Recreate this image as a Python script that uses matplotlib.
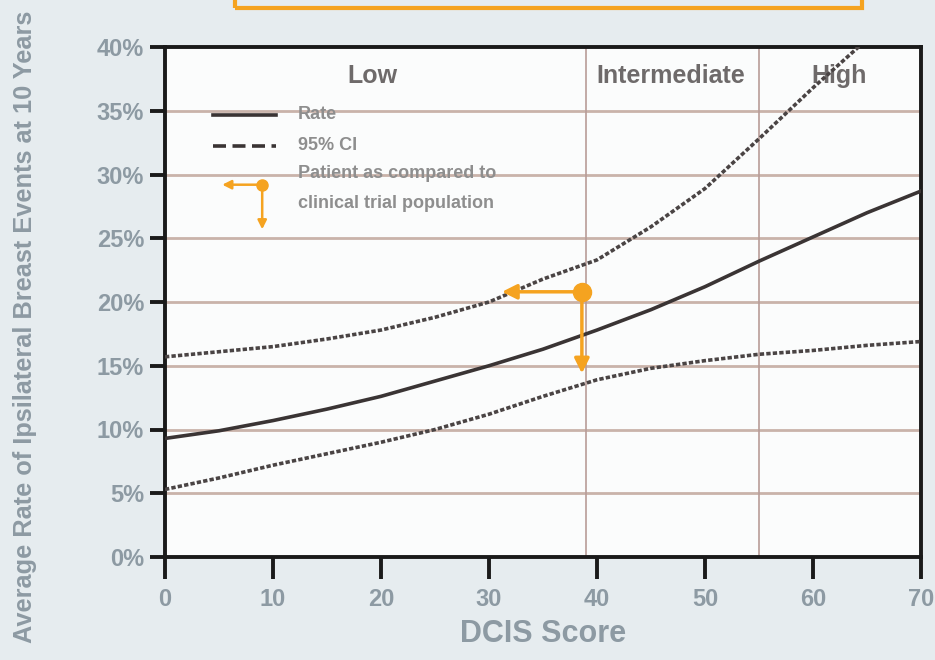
import numpy as np
import matplotlib
matplotlib.use("Agg")
import matplotlib.pyplot as plt
from matplotlib.patches import Rectangle

# DCIS score vs 10-yr ipsilateral breast event rate
score = [0, 5, 10, 15, 20, 25, 30, 35, 40, 45, 50, 55, 60, 65, 70]
rate = [9.3, 9.9, 10.7, 11.6, 12.6, 13.8, 15.0, 16.3, 17.8, 19.4, 21.2, 23.2, 25.1, 27.0, 28.7]
ci_lower = [5.3, 6.2, 7.2, 8.1, 9.0, 10.0, 11.2, 12.6, 13.9, 14.8, 15.4, 15.9, 16.2, 16.6, 16.9]
score_up = [0, 5, 10, 15, 20, 25, 30, 35, 40, 45, 50, 55, 60, 65]
ci_upper = [15.7, 16.1, 16.5, 17.1, 17.8, 18.8, 20.0, 21.8, 23.3, 25.9, 28.9, 32.8, 36.8, 40.6]

groups = ["Low", "Intermediate", "High"]
group_x = [19.2, 46.8, 62.4]
cutoffs = [39, 55]

patient_score = 38.6
patient_rate = 20.8
trial_score = 31.2
trial_rate = 14.4

bg = "#e6ecef"
grid_col = "#c9b3aa"
txt_gray = "#8d9aa3"
orange = "#f5a320"
font = ["Liberation Sans", "DejaVu Sans"]

fig = plt.figure(figsize=(9.35, 6.6), dpi=100, facecolor=bg)
ax = fig.add_axes([165 / 935, 1 - 557 / 660, (921 - 165) / 935, (557 - 47) / 660])
ax.set_facecolor("#fbfcfc")

ax.plot(score, rate, color="#3a3434", lw=2.6, zorder=3)
ax.plot(score_up, ci_upper, color="#4a4444", lw=2.6, ls=(0, (1.2, 0.6)), zorder=3)
ax.plot(score, ci_lower, color="#4a4444", lw=2.6, ls=(0, (1.2, 0.6)), zorder=3)

ax.set_xlim(0, 70)
ax.set_ylim(0, 40)
ax.set_yticks(range(0, 41, 5))
ax.set_yticklabels([f"{v}%" for v in range(0, 41, 5)])
ax.set_xticks(range(0, 71, 10))

for v in range(5, 40, 5):
    ax.axhline(v, color=grid_col, lw=2, zorder=1)
for c in cutoffs:
    ax.axvline(c, color="#b89c98", lw=1.2, zorder=1)

for g, gx in zip(groups, group_x):
    ax.text(gx, 37.7, g, ha="center", va="center", fontsize=18,
            fontweight="bold", color="#6e6a6a", family=font, zorder=2)

# patient marker
ax.plot(patient_score, patient_rate, "o", color=orange, ms=13, zorder=5)
ax.annotate("", xy=(trial_score, patient_rate), xytext=(patient_score, patient_rate),
            arrowprops=dict(arrowstyle="-|>", color=orange, lw=2.5,
                            mutation_scale=22, shrinkA=0, shrinkB=0), zorder=5)
ax.annotate("", xy=(patient_score, trial_rate), xytext=(patient_score, patient_rate),
            arrowprops=dict(arrowstyle="-|>", color=orange, lw=2.5,
                            mutation_scale=22, shrinkA=0, shrinkB=0), zorder=5)

# hand-made legend
ax.plot([4.4, 10.3], [34.7, 34.7], color="#3a3434", lw=2.6)
ax.plot([4.4, 10.3], [32.2, 32.2], color="#3a3434", lw=2.6, ls=(0, (3.6, 1.8)))
ax.plot(9.0, 29.2, "o", color=orange, ms=8, zorder=5)
ax.annotate("", xy=(5.3, 29.2), xytext=(9.0, 29.2),
            arrowprops=dict(arrowstyle="-|>", color=orange, lw=1.8,
                            mutation_scale=13, shrinkA=0, shrinkB=0))
ax.annotate("", xy=(9.0, 25.7), xytext=(9.0, 29.2),
            arrowprops=dict(arrowstyle="-|>", color=orange, lw=1.8,
                            mutation_scale=13, shrinkA=0, shrinkB=0))
leg_kw = dict(ha="left", va="center", fontsize=13, color="#8e8e8e",
              fontweight="bold", family=font)
ax.text(12.3, 34.7, "Rate", **leg_kw)
ax.text(12.3, 32.3, "95% CI", **leg_kw)
ax.text(12.3, 30.1, "Patient as compared to", **leg_kw)
ax.text(12.3, 27.7, "clinical trial population", **leg_kw)

for s in ax.spines.values():
    s.set_color("#1a1a1a")
    s.set_linewidth(2.8)
ax.tick_params(axis="y", length=11, width=2.8, color="#1a1a1a", pad=4,
               labelsize=17, labelcolor=txt_gray)
ax.tick_params(axis="x", direction="out", length=16, width=2.8,
               color="#1a1a1a", pad=6, labelsize=17, labelcolor=txt_gray)
for lab in ax.get_xticklabels() + ax.get_yticklabels():
    lab.set_family(font)
    lab.set_fontweight("bold")

ax.set_xlabel("DCIS Score", fontsize=22, color=txt_gray, fontweight="bold",
              family=font, labelpad=6)
fig.text(25 / 935, 1 - 643 / 660,
         "Average Rate of Ipsilateral Breast Events at 10 Years",
         rotation=90, rotation_mode="anchor", ha="left", va="center",
         fontsize=18.3, color=txt_gray, fontweight="bold", family=font)

# orange title box cut off at the top
fig.patches.append(Rectangle((235 / 935, 1 - 8 / 660), (862 - 235) / 935, 0.05,
                             transform=fig.transFigure, fill=False,
                             edgecolor=orange, lw=3))

fig.savefig("out.png", dpi=100, facecolor=bg)
